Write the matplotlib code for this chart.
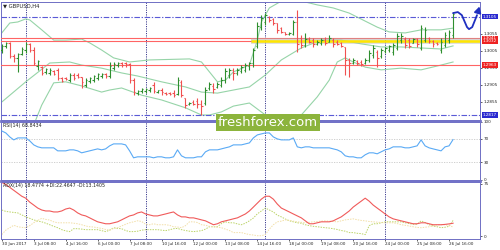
import numpy as np
import matplotlib
matplotlib.use("Agg")
import matplotlib.pyplot as plt
from matplotlib.transforms import blended_transform_factory

# GBPUSD H4 bars, 30 Jun 2017 00:00 .. 26 Jul 2017 20:00
opens = [1.3007, 1.3019, 1.3028, 1.2990, 1.2984, 1.2995, 1.3007, 1.3025, 1.3007, 1.2960,
         1.2957, 1.2943, 1.2940, 1.2946, 1.2949, 1.2925, 1.2925, 1.2919, 1.2934, 1.2934,
         1.2928, 1.2905, 1.2916, 1.2919, 1.2925, 1.2931, 1.2937, 1.2931, 1.2954, 1.2963,
         1.2969, 1.2969, 1.2966, 1.2919, 1.2881, 1.2887, 1.2887, 1.2890, 1.2905, 1.2884,
         1.2890, 1.2881, 1.2881, 1.2881, 1.2878, 1.2914, 1.2867, 1.2849, 1.2855, 1.2858,
         1.2849, 1.2852, 1.2896, 1.2902, 1.2899, 1.2905, 1.2919, 1.2934, 1.2949, 1.2940,
         1.2946, 1.2949, 1.2960, 1.2969, 1.3019, 1.3074, 1.3089, 1.3104, 1.3098, 1.3086,
         1.3071, 1.3060, 1.3054, 1.3054, 1.3089, 1.3042, 1.3022, 1.3039, 1.3036, 1.3025,
         1.3028, 1.3036, 1.3030, 1.3036, 1.3030, 1.3028, 1.3016, 1.2978, 1.2969, 1.2975,
         1.2972, 1.2969, 1.2978, 1.2992, 1.3001, 1.2990, 1.3004, 1.3007, 1.3001, 1.3013,
         1.3036, 1.3039, 1.3036, 1.3028, 1.3039, 1.3013, 1.3036, 1.3042, 1.3033, 1.3028,
         1.3007, 1.3022, 1.3036, 1.3051]
highs = [1.3025, 1.3030, 1.3030, 1.2995, 1.2998, 1.3016, 1.3030, 1.3028, 1.3016, 1.2978,
         1.2960, 1.2954, 1.2954, 1.2949, 1.2954, 1.2928, 1.2928, 1.2940, 1.2940, 1.2940,
         1.2928, 1.2925, 1.2928, 1.2934, 1.2940, 1.2940, 1.2940, 1.2972, 1.2972, 1.2972,
         1.2972, 1.2972, 1.2969, 1.2925, 1.2890, 1.2896, 1.2896, 1.2899, 1.2914, 1.2890,
         1.2896, 1.2884, 1.2884, 1.2890, 1.2928, 1.2919, 1.2867, 1.2855, 1.2861, 1.2867,
         1.2861, 1.2899, 1.2914, 1.2911, 1.2914, 1.2928, 1.2954, 1.2954, 1.2954, 1.2954,
         1.2963, 1.2969, 1.2972, 1.3013, 1.3089, 1.3109, 1.3115, 1.3106, 1.3101, 1.3086,
         1.3074, 1.3060, 1.3060, 1.3095, 1.3124, 1.3051, 1.3057, 1.3045, 1.3042, 1.3036,
         1.3042, 1.3045, 1.3051, 1.3042, 1.3036, 1.3030, 1.3016, 1.2984, 1.2984, 1.2978,
         1.2978, 1.2984, 1.3007, 1.3022, 1.3007, 1.3013, 1.3016, 1.3022, 1.3028, 1.3057,
         1.3057, 1.3045, 1.3042, 1.3042, 1.3042, 1.3080, 1.3074, 1.3045, 1.3036, 1.3030,
         1.3042, 1.3060, 1.3066, 1.3118]
lows = [1.2998, 1.3013, 1.2984, 1.2972, 1.2943, 1.2992, 1.2998, 1.3001, 1.2963, 1.2949,
        1.2934, 1.2937, 1.2934, 1.2934, 1.2919, 1.2914, 1.2919, 1.2914, 1.2919, 1.2925,
        1.2896, 1.2899, 1.2911, 1.2914, 1.2919, 1.2925, 1.2925, 1.2925, 1.2949, 1.2957,
        1.2957, 1.2957, 1.2911, 1.2875, 1.2875, 1.2881, 1.2881, 1.2884, 1.2881, 1.2881,
        1.2875, 1.2875, 1.2875, 1.2870, 1.2875, 1.2870, 1.2838, 1.2846, 1.2846, 1.2838,
        1.2817, 1.2846, 1.2890, 1.2881, 1.2896, 1.2899, 1.2911, 1.2925, 1.2919, 1.2934,
        1.2940, 1.2943, 1.2949, 1.2957, 1.3013, 1.3066, 1.3080, 1.3089, 1.3080, 1.3057,
        1.3057, 1.3051, 1.3051, 1.3051, 1.3001, 1.3013, 1.3016, 1.3028, 1.3016, 1.3022,
        1.3022, 1.3022, 1.3030, 1.3016, 1.3022, 1.3016, 1.2934, 1.2928, 1.2966, 1.2963,
        1.2960, 1.2966, 1.2972, 1.2984, 1.2957, 1.2984, 1.2998, 1.3001, 1.2992, 1.3007,
        1.3028, 1.3013, 1.3013, 1.3028, 1.3016, 1.3007, 1.3030, 1.3028, 1.3016, 1.3022,
        1.2998, 1.3016, 1.3028, 1.3042]
closes = [1.3019, 1.3028, 1.2990, 1.2984, 1.2995, 1.3010, 1.3025, 1.3007, 1.2969, 1.2975,
          1.2940, 1.2952, 1.2949, 1.2937, 1.2925, 1.2916, 1.2922, 1.2934, 1.2925, 1.2928,
          1.2914, 1.2919, 1.2925, 1.2931, 1.2937, 1.2937, 1.2931, 1.2960, 1.2966, 1.2969,
          1.2963, 1.2966, 1.2919, 1.2884, 1.2887, 1.2893, 1.2893, 1.2896, 1.2887, 1.2890,
          1.2884, 1.2878, 1.2878, 1.2875, 1.2919, 1.2875, 1.2846, 1.2852, 1.2849, 1.2849,
          1.2843, 1.2890, 1.2908, 1.2893, 1.2908, 1.2919, 1.2946, 1.2949, 1.2940, 1.2949,
          1.2957, 1.2963, 1.2969, 1.3007, 1.3077, 1.3101, 1.3109, 1.3095, 1.3086, 1.3066,
          1.3060, 1.3054, 1.3057, 1.3089, 1.3025, 1.3022, 1.3039, 1.3030, 1.3025, 1.3030,
          1.3036, 1.3028, 1.3042, 1.3025, 1.3025, 1.3019, 1.2978, 1.2969, 1.2978, 1.2969,
          1.2966, 1.2978, 1.2998, 1.3013, 1.2984, 1.3007, 1.3013, 1.3019, 1.3022, 1.3048,
          1.3048, 1.3022, 1.3019, 1.3039, 1.3025, 1.3071, 1.3066, 1.3033, 1.3025, 1.3025,
          1.3030, 1.3051, 1.3060, 1.3112]

# Bollinger bands (20), read at sampled bars
bb_up_idx = [0, 2, 4, 6, 7, 10, 13, 16, 20, 22, 25, 28, 32, 37, 47, 50, 52, 54, 56, 58,
             62, 64, 65, 67, 70, 74, 79, 83, 87, 94, 97, 101, 105, 110, 113]
bb_up = [1.3057, 1.3086, 1.3089, 1.3098, 1.3095, 1.3066, 1.3036, 1.3036, 1.3039, 1.3028,
         1.3007, 1.2984, 1.2972, 1.2978, 1.2981, 1.2972, 1.2943, 1.2914, 1.2919, 1.2943,
         1.2963, 1.3036, 1.3089, 1.3130, 1.3150, 1.3153, 1.3139, 1.3130, 1.3115, 1.3074,
         1.3060, 1.3057, 1.3066, 1.3066, 1.3071]
bb_mid_idx = [0, 6, 12, 17, 20, 25, 30, 34, 40, 46, 50, 54, 58, 62, 66, 70, 75, 80, 85,
              90, 95, 100, 105, 110, 113]
bb_mid = [1.2855, 1.2914, 1.2969, 1.2972, 1.2963, 1.2954, 1.2940, 1.2931, 1.2914, 1.2899,
          1.2884, 1.2881, 1.2890, 1.2899, 1.2934, 1.2978, 1.3013, 1.3036, 1.3036, 1.3025,
          1.3016, 1.3016, 1.3013, 1.3010, 1.3019]
bb_low_idx = [8, 10, 13, 16, 20, 25, 27, 30, 35, 40, 46, 50, 52, 55, 58, 62, 66, 70, 75,
              79, 82, 84, 86, 88, 91, 95, 100, 105, 110, 113]
bb_low = [1.2788, 1.2846, 1.2911, 1.2914, 1.2902, 1.2884, 1.2890, 1.2896, 1.2875, 1.2861,
          1.2838, 1.2817, 1.2817, 1.2826, 1.2843, 1.2852, 1.2817, 1.2779, 1.2817, 1.2870,
          1.2919, 1.2972, 1.2984, 1.2972, 1.2957, 1.2949, 1.2954, 1.2949, 1.2963, 1.2972]

rsi = [83.7, 80.3, 73.4, 68.3, 71.7, 71.7, 71.7, 66.6, 59.7, 56.3,
       54.6, 54.6, 54.6, 54.6, 49.4, 49.4, 49.4, 51.1, 51.1, 49.4,
       46.0, 47.7, 49.4, 51.1, 52.8, 51.1, 52.8, 58.0, 61.4, 61.4,
       61.4, 59.7, 49.4, 37.4, 39.1, 39.1, 39.1, 39.1, 37.4, 39.1,
       39.1, 37.4, 37.4, 39.1, 51.1, 40.8, 37.4, 37.4, 37.4, 39.1,
       39.1, 47.7, 51.1, 51.1, 51.1, 52.8, 54.6, 56.3, 59.7, 59.7,
       59.7, 61.4, 63.1, 71.7, 76.9, 78.6, 80.3, 80.3, 73.4, 70.0,
       68.3, 68.3, 68.3, 71.7, 56.3, 54.6, 56.3, 56.3, 54.6, 54.6,
       54.6, 54.6, 54.6, 52.8, 51.1, 47.7, 40.8, 39.1, 39.1, 37.4,
       37.4, 42.6, 46.0, 46.0, 44.3, 47.7, 51.1, 52.8, 56.3, 56.3,
       56.3, 54.6, 54.6, 56.3, 58.0, 68.3, 58.0, 54.6, 52.8, 51.1,
       49.4, 56.3, 58.0, 68.8434]

adx = [77.1, 74.3, 70.0, 65.8, 61.6, 57.3, 54.5, 48.8, 44.6, 40.3,
       37.5, 36.1, 36.1, 34.7, 34.7, 36.1, 38.9, 40.3, 37.5, 33.3,
       30.4, 29.0, 26.2, 23.3, 20.5, 19.1, 17.7, 17.7, 19.1, 20.5,
       23.3, 26.2, 29.0, 30.4, 33.3, 34.7, 31.8, 30.4, 29.0, 29.0,
       30.4, 31.8, 33.3, 34.7, 30.4, 27.6, 27.6, 26.2, 26.2, 24.8,
       23.3, 21.9, 19.1, 16.3, 17.7, 20.5, 21.9, 23.3, 24.8, 26.2,
       29.0, 31.8, 36.1, 41.7, 47.4, 53.1, 57.3, 57.3, 53.1, 46.0,
       40.3, 37.5, 34.7, 31.8, 29.0, 26.2, 21.9, 17.7, 17.7, 19.1,
       20.5, 20.5, 20.5, 21.9, 24.8, 27.6, 31.8, 36.1, 41.7, 46.0,
       50.2, 54.5, 50.2, 44.6, 40.3, 36.1, 31.8, 27.6, 24.8, 23.3,
       21.9, 20.5, 19.1, 17.7, 17.7, 19.1, 19.1, 17.7, 16.3, 16.3,
       16.3, 16.8, 17.5, 18.4774]
plus_di = [37.5, 35.5, 34.7, 34.0, 33.3, 30.5, 27.6, 25.5, 23.3, 21.5,
           20.5, 18.5, 16.3, 14.0, 12.0, 9.2, 7.5, 6.4, 10.6, 10.6,
           10.0, 9.2, 9.2, 9.2, 9.2, 7.8, 6.4, 8.5, 12.0, 11.0,
           10.6, 8.0, 6.4, 6.4, 7.0, 8.5, 9.2, 9.2, 9.2, 9.2,
           8.5, 7.8, 9.0, 10.6, 11.0, 9.2, 8.0, 7.0, 6.4, 7.0,
           7.8, 10.0, 13.4, 13.4, 13.4, 18.0, 20.5, 19.1, 19.1, 17.5,
           16.3, 18.5, 21.9, 26.0, 32.0, 36.1, 40.3, 37.5, 34.7, 30.0,
           27.6, 24.5, 22.0, 20.5, 19.1, 18.5, 16.3, 15.0, 14.0, 13.4,
           12.7, 12.0, 11.5, 10.6, 9.5, 8.0, 7.0, 5.0, 5.0, 4.0,
           3.5, 2.1, 15.0, 17.7, 17.7, 19.1, 20.5, 20.5, 20.5, 20.5,
           20.5, 19.1, 18.0, 17.0, 17.0, 21.9, 19.5, 16.3, 14.5, 13.4,
           12.0, 12.7, 14.0, 22.4647]
minus_di = [2.1, 8.5, 12.0, 15.5, 13.4, 12.5, 12.0, 15.0, 19.1, 22.5,
            25.5, 24.0, 23.0, 20.5, 19.1, 19.1, 19.1, 19.1, 18.5, 17.7,
            16.3, 14.5, 13.4, 13.0, 12.0, 11.0, 9.5, 8.5, 11.0, 12.0,
            14.5, 17.0, 19.1, 20.5, 22.0, 21.0, 17.0, 16.3, 17.7, 16.3,
            16.3, 16.3, 15.5, 13.4, 13.0, 12.0, 15.0, 20.5, 20.5, 19.5,
            16.3, 15.5, 14.0, 13.4, 12.7, 12.0, 10.0, 8.0, 5.0, 5.0,
            5.0, 3.5, 2.1, 1.5, 0.5, 0.5, 2.1, 10.0, 16.3, 20.5,
            21.5, 23.3, 22.5, 21.5, 20.5, 19.8, 19.1, 19.8, 20.5, 21.0,
            21.5, 21.9, 21.5, 21.0, 20.5, 21.9, 23.3, 24.0, 24.8, 23.5,
            22.5, 21.9, 21.0, 20.5, 20.0, 19.5, 19.1, 19.1, 19.1, 18.0,
            16.3, 15.5, 14.5, 13.4, 12.5, 12.0, 12.7, 13.4, 14.5, 16.3,
            16.3, 16.3, 15.0, 13.1405]

# levels drawn on the chart
red_levels = [1.3041, 1.3032, 1.2963]
blue_levels = [1.3105, 1.2817]
yellow_level = 1.3032
yellow_from = 63
grid_prices = [1.3055, 1.3005, 1.2955, 1.2905, 1.2855]
week_starts = [6, 36, 66, 96]

# forecast arrow drawn after the last bar (bar index, price)
fc_idx = [113.0, 114.2, 115.2, 116.5, 117.0, 117.8, 119.0, 119.8]
fc_price = [1.3115, 1.3118, 1.3109, 1.3074, 1.3068, 1.3074, 1.3109, 1.3142]

xtick_idx = list(range(0, 113, 8))
xtick_labels = ["30 Jun 2017", "3 Jul 08:00", "4 Jul 16:00", "6 Jul 00:00", "7 Jul 08:00",
                "10 Jul 16:00", "12 Jul 00:00", "13 Jul 08:00", "14 Jul 16:00", "18 Jul 00:00",
                "19 Jul 08:00", "20 Jul 16:00", "24 Jul 00:00", "25 Jul 08:00", "26 Jul 16:00"]

BULL = "#2f8f2f"
BEAR = "#f05050"
BAND = "#96d4a8"
FRAME = "#6f6fc4"
VLINE = "#3c3c90"
FS = 3.0      # axis labels
FS_HEAD = 3.4  # indicator captions

W, H = 500, 250
fig = plt.figure(figsize=(5, 2.5), dpi=100)

def axes_px(top, bottom):
    return fig.add_axes([1 / W, 1 - bottom / H, 479 / W, (bottom - top) / H])

ax = axes_px(1.5, 119.5)
ax_rsi = axes_px(121.5, 179.5)
ax_adx = axes_px(181.5, 238.5)

n = len(closes)
idx = np.arange(n)
o = np.array(opens); h = np.array(highs); l = np.array(lows); c = np.array(closes)
cols = np.where(c >= o, BULL, BEAR)

for a in (ax, ax_rsi, ax_adx):
    a.set_xlim(-0.2, 119.75)
    for s in a.spines.values():
        s.set_color(FRAME)
        s.set_linewidth(0.7)
    a.set_facecolor("white")
    for w in week_starts:
        a.axvline(w, color=VLINE, lw=0.7, ls=(0, (1.2, 1.2)), zorder=1)
    a.yaxis.tick_right()
    a.tick_params(axis="y", labelsize=FS, length=1.5, pad=1, colors="#222222", width=0.5)
    a.tick_params(axis="x", length=0, labelbottom=False)

# main price panel
ax.set_ylim(1.28038, 1.31489)
ax.plot(bb_up_idx, bb_up, color=BAND, lw=0.8, zorder=2)
ax.plot(bb_mid_idx, bb_mid, color=BAND, lw=0.8, zorder=2)
ax.plot(bb_low_idx, bb_low, color=BAND, lw=0.8, zorder=2)
for p in red_levels:
    ax.axhline(p, color="#ff6464", lw=0.8, zorder=3)
for p in blue_levels:
    ax.axhline(p, color="#5a5ad6", lw=0.8, ls=(0, (5, 1.5, 1.2, 1.5)), zorder=3)
ax.plot([yellow_from - 0.5, 119.75], [yellow_level] * 2, color="#b0b0b0", lw=4.0,
        alpha=0.5, zorder=3, solid_capstyle="butt")
ax.plot([yellow_from - 0.5, 119.75], [yellow_level] * 2, color="#ffe600", lw=1.8,
        zorder=4, solid_capstyle="butt")

ax.vlines(idx, l, h, colors=cols, lw=0.8, zorder=5)
ax.hlines(o, idx - 0.35, idx, colors=cols, lw=0.8, zorder=5)
ax.hlines(c, idx, idx + 0.35, colors=cols, lw=0.8, zorder=5)

ax.plot(fc_idx[:-1], fc_price[:-1], color="#1f2fc0", lw=1.3, clip_on=False, zorder=6,
        solid_capstyle="round", solid_joinstyle="round")
ax.annotate("", xy=(fc_idx[-1], fc_price[-1]), xytext=(fc_idx[-2], fc_price[-2]),
            arrowprops=dict(arrowstyle="-|>,head_length=0.35,head_width=0.2",
                            color="#1f2fc0", lw=1.3), annotation_clip=False, zorder=6)

ax.set_yticks(grid_prices)
ax.set_yticklabels([f"{p:.4f}" for p in grid_prices])
tr = blended_transform_factory(ax.transAxes, ax.transData)
for p in red_levels:
    ax.text(1.006, p, f"{p:.4f}", transform=tr, fontsize=FS, color="white", va="center",
            ha="left", bbox=dict(boxstyle="square,pad=0.2", fc="#ee2222", ec="none"), zorder=7)
for p in blue_levels:
    ax.text(1.006, p, f"{p:.4f}", transform=tr, fontsize=FS, color="white", va="center",
            ha="left", bbox=dict(boxstyle="square,pad=0.2", fc="#2a2ad0", ec="none"), zorder=7)
ax.text(0.004, 0.985, "\u25bc GBPUSD,H4", transform=ax.transAxes, fontsize=3.8,
        va="top", ha="left", color="#222222")

# RSI panel
ax_rsi.set_ylim(0, 100)
ax_rsi.set_yticks([0, 30, 70, 100])
ax_rsi.set_yticklabels(["0", "30", "70", "100"])
for lv in (30, 70):
    ax_rsi.axhline(lv, color="#c8c8c8", lw=0.6, ls=(0, (1.5, 1.5)), zorder=1)
ax_rsi.plot(idx, rsi, color="#5aaaf5", lw=0.8, zorder=3)
ax_rsi.text(0.004, 0.98, f"RSI(14) {rsi[-1]:.4f}", transform=ax_rsi.transAxes,
            fontsize=FS_HEAD, va="top", ha="left", color="#222222")

# ADX panel
ax_adx.set_ylim(-3.5, 78.5)
ax_adx.set_yticks([0, 75])
ax_adx.set_yticklabels(["0", "75"])
ax_adx.plot(idx, plus_di, color="#bcd468", lw=0.7, ls=(0, (1.5, 1.2)), zorder=2)
ax_adx.plot(idx, minus_di, color="#f2dfa8", lw=0.7, ls=(0, (1.5, 1.2)), zorder=2)
ax_adx.plot(idx, adx, color="#f05a5a", lw=0.8, zorder=3)
ax_adx.text(0.004, 0.98,
            f"ADX(14) {adx[-1]:.4f} +DI:{plus_di[-1]:.4f} -DI:{minus_di[-1]:.4f}",
            transform=ax_adx.transAxes, fontsize=FS_HEAD, va="top", ha="left", color="#222222")
ax_adx.set_xticks(xtick_idx)
ax_adx.set_xticklabels(xtick_labels, ha="left")
ax_adx.tick_params(axis="x", labelbottom=True, labelsize=FS, length=1.5, pad=1,
                   colors="#222222", width=0.5)

# thick separators between the panels
for yy in (120.5, 180.5):
    fig.add_artist(plt.Line2D([1 / W, 480 / W], [1 - yy / H] * 2, color="#7272c8", lw=2.0))

# watermark
fig.text(268 / W, 1 - 122.5 / H, "freshforex.com", fontsize=9.5, color="white",
         ha="center", va="center",
         bbox=dict(boxstyle="square,pad=0.12", fc="#8cb43c", ec="none"))

fig.savefig("out.png", dpi=100)
